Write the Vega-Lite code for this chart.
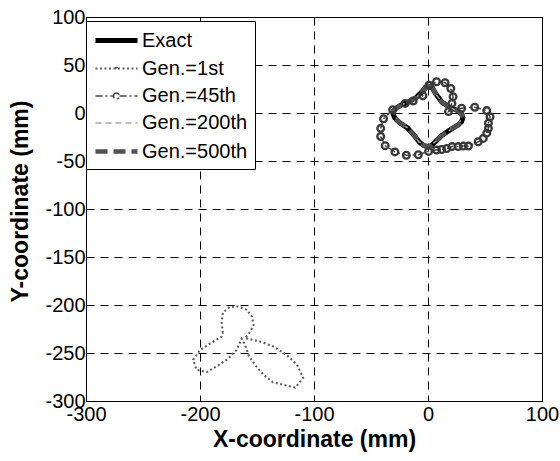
{
  "$schema": "https://vega.github.io/schema/vega-lite/v6.json",
  "width": 456,
  "height": 384,
  "autosize": {"type": "none"},
  "padding": {"left": 86, "top": 17, "right": 18, "bottom": 60},
  "background": "white",
  "config": {
    "font": "Liberation Sans",
    "view": {"stroke": "black", "strokeWidth": 1},
    "axis": {
      "labelFont": "Liberation Sans",
      "labelFontSize": 20,
      "labelColor": "black",
      "labelFlush": false,
      "labelOverlap": false,
      "labelExpr": "datum.value + ''",
      "titleFont": "Liberation Sans",
      "titleFontSize": 23,
      "titleFontWeight": "bold",
      "titleColor": "black",
      "domainColor": "black",
      "domainWidth": 1,
      "tickColor": "black",
      "tickSize": -5,
      "grid": true,
      "gridColor": "black",
      "gridOpacity": 1,
      "gridWidth": 1,
      "gridDash": [8, 6]
    },
    "legend": {
      "labelFont": "Liberation Sans",
      "labelFontSize": 20,
      "labelColor": "black",
      "symbolSize": 400,
      "labelOffset": 24,
      "padding": 7,
      "rowPadding": 6,
      "strokeColor": "black",
      "fillColor": "white",
      "cornerRadius": 0
    }
  },
  "data": {
    "values": [
      {"s": "Exact", "i": 1, "x": 1, "y": 28.5},
      {"s": "Exact", "i": 2, "x": 4, "y": 26},
      {"s": "Exact", "i": 3, "x": 6.5, "y": 20.5},
      {"s": "Exact", "i": 4, "x": 12, "y": 11.5},
      {"s": "Exact", "i": 5, "x": 19, "y": 6},
      {"s": "Exact", "i": 6, "x": 26, "y": 2.5},
      {"s": "Exact", "i": 7, "x": 29.5, "y": -1},
      {"s": "Exact", "i": 8, "x": 30.5, "y": -5},
      {"s": "Exact", "i": 9, "x": 29.5, "y": -9},
      {"s": "Exact", "i": 10, "x": 26.5, "y": -12.5},
      {"s": "Exact", "i": 11, "x": 20, "y": -17},
      {"s": "Exact", "i": 12, "x": 12, "y": -23.5},
      {"s": "Exact", "i": 13, "x": 6, "y": -30.5},
      {"s": "Exact", "i": 14, "x": 3, "y": -34},
      {"s": "Exact", "i": 15, "x": 0, "y": -35},
      {"s": "Exact", "i": 16, "x": -3.5, "y": -34},
      {"s": "Exact", "i": 17, "x": -7.5, "y": -30.5},
      {"s": "Exact", "i": 18, "x": -12, "y": -23.5},
      {"s": "Exact", "i": 19, "x": -18, "y": -15.5},
      {"s": "Exact", "i": 20, "x": -24.5, "y": -10.5},
      {"s": "Exact", "i": 21, "x": -29, "y": -5.5},
      {"s": "Exact", "i": 22, "x": -30.5, "y": -1.5},
      {"s": "Exact", "i": 23, "x": -30, "y": 2.5},
      {"s": "Exact", "i": 24, "x": -27.5, "y": 5.5},
      {"s": "Exact", "i": 25, "x": -24, "y": 8},
      {"s": "Exact", "i": 26, "x": -17, "y": 11.5},
      {"s": "Exact", "i": 27, "x": -10.5, "y": 16},
      {"s": "Exact", "i": 28, "x": -5, "y": 22.5},
      {"s": "Exact", "i": 29, "x": -2.5, "y": 26.5},
      {"s": "Exact", "i": 30, "x": 1, "y": 28.5},

      {"s": "Gen.=1st", "i": 1, "x": -180, "y": -229},
      {"s": "Gen.=1st", "i": 2, "x": -181, "y": -218},
      {"s": "Gen.=1st", "i": 3, "x": -180, "y": -208},
      {"s": "Gen.=1st", "i": 4, "x": -174, "y": -202},
      {"s": "Gen.=1st", "i": 5, "x": -167, "y": -201.5},
      {"s": "Gen.=1st", "i": 6, "x": -159, "y": -205},
      {"s": "Gen.=1st", "i": 7, "x": -154.5, "y": -212},
      {"s": "Gen.=1st", "i": 8, "x": -153, "y": -221},
      {"s": "Gen.=1st", "i": 9, "x": -156, "y": -228},
      {"s": "Gen.=1st", "i": 10, "x": -160.5, "y": -234.5},
      {"s": "Gen.=1st", "i": 11, "x": -147.5, "y": -238},
      {"s": "Gen.=1st", "i": 12, "x": -136, "y": -243},
      {"s": "Gen.=1st", "i": 13, "x": -124, "y": -252},
      {"s": "Gen.=1st", "i": 14, "x": -115, "y": -262},
      {"s": "Gen.=1st", "i": 15, "x": -109.5, "y": -276},
      {"s": "Gen.=1st", "i": 16, "x": -116.5, "y": -286},
      {"s": "Gen.=1st", "i": 17, "x": -127, "y": -283},
      {"s": "Gen.=1st", "i": 18, "x": -136, "y": -280.5},
      {"s": "Gen.=1st", "i": 19, "x": -144.5, "y": -272.5},
      {"s": "Gen.=1st", "i": 20, "x": -152, "y": -262},
      {"s": "Gen.=1st", "i": 21, "x": -157.5, "y": -252},
      {"s": "Gen.=1st", "i": 22, "x": -160.5, "y": -241.5},
      {"s": "Gen.=1st", "i": 23, "x": -163.5, "y": -235},
      {"s": "Gen.=1st", "i": 24, "x": -168, "y": -247},
      {"s": "Gen.=1st", "i": 25, "x": -176.5, "y": -257},
      {"s": "Gen.=1st", "i": 26, "x": -185.5, "y": -264},
      {"s": "Gen.=1st", "i": 27, "x": -194, "y": -270},
      {"s": "Gen.=1st", "i": 28, "x": -203, "y": -267.5},
      {"s": "Gen.=1st", "i": 29, "x": -206, "y": -257},
      {"s": "Gen.=1st", "i": 30, "x": -200, "y": -247},
      {"s": "Gen.=1st", "i": 31, "x": -191, "y": -240},
      {"s": "Gen.=1st", "i": 32, "x": -181, "y": -233},
      {"s": "Gen.=1st", "i": 33, "x": -180, "y": -229},

      {"s": "Gen.=45th", "i": 1, "x": 1, "y": 29},
      {"s": "Gen.=45th", "i": 2, "x": 7.5, "y": 32.5},
      {"s": "Gen.=45th", "i": 3, "x": 15, "y": 31.5},
      {"s": "Gen.=45th", "i": 4, "x": 20, "y": 25.5},
      {"s": "Gen.=45th", "i": 5, "x": 22, "y": 17},
      {"s": "Gen.=45th", "i": 6, "x": 21, "y": 10},
      {"s": "Gen.=45th", "i": 7, "x": 18, "y": 1.5},
      {"s": "Gen.=45th", "i": 8, "x": 29.5, "y": 5},
      {"s": "Gen.=45th", "i": 9, "x": 41, "y": 6},
      {"s": "Gen.=45th", "i": 10, "x": 51.5, "y": 2.5},
      {"s": "Gen.=45th", "i": 11, "x": 54.5, "y": -4},
      {"s": "Gen.=45th", "i": 12, "x": 53, "y": -10.5},
      {"s": "Gen.=45th", "i": 13, "x": 53, "y": -16},
      {"s": "Gen.=45th", "i": 14, "x": 51.5, "y": -21},
      {"s": "Gen.=45th", "i": 15, "x": 48.5, "y": -26.5},
      {"s": "Gen.=45th", "i": 16, "x": 44, "y": -30},
      {"s": "Gen.=45th", "i": 17, "x": 35.5, "y": -34.5},
      {"s": "Gen.=45th", "i": 18, "x": 31, "y": -34.5},
      {"s": "Gen.=45th", "i": 19, "x": 26.5, "y": -35},
      {"s": "Gen.=45th", "i": 20, "x": 21, "y": -35},
      {"s": "Gen.=45th", "i": 21, "x": 16.5, "y": -37},
      {"s": "Gen.=45th", "i": 22, "x": 12, "y": -38},
      {"s": "Gen.=45th", "i": 23, "x": 7.5, "y": -38.5},
      {"s": "Gen.=45th", "i": 24, "x": 0.5, "y": -40},
      {"s": "Gen.=45th", "i": 25, "x": -8.5, "y": -43.5},
      {"s": "Gen.=45th", "i": 26, "x": -19, "y": -44},
      {"s": "Gen.=45th", "i": 27, "x": -29, "y": -40.5},
      {"s": "Gen.=45th", "i": 28, "x": -37.5, "y": -34},
      {"s": "Gen.=45th", "i": 29, "x": -41.5, "y": -24.5},
      {"s": "Gen.=45th", "i": 30, "x": -41.5, "y": -16},
      {"s": "Gen.=45th", "i": 31, "x": -39, "y": -6},
      {"s": "Gen.=45th", "i": 32, "x": -31, "y": 3.5},
      {"s": "Gen.=45th", "i": 33, "x": -20, "y": 10},
      {"s": "Gen.=45th", "i": 34, "x": -13, "y": 12.5},
      {"s": "Gen.=45th", "i": 35, "x": -4.5, "y": 18},
      {"s": "Gen.=45th", "i": 36, "x": 1, "y": 29},

      {"s": "Gen.=200th", "i": 1, "x": 1.5, "y": 28},
      {"s": "Gen.=200th", "i": 2, "x": 6.5, "y": 20},
      {"s": "Gen.=200th", "i": 3, "x": 12.5, "y": 11},
      {"s": "Gen.=200th", "i": 4, "x": 19.5, "y": 5.5},
      {"s": "Gen.=200th", "i": 5, "x": 27, "y": 2},
      {"s": "Gen.=200th", "i": 6, "x": 30, "y": -5},
      {"s": "Gen.=200th", "i": 7, "x": 26, "y": -13},
      {"s": "Gen.=200th", "i": 8, "x": 19.5, "y": -17.5},
      {"s": "Gen.=200th", "i": 9, "x": 11.5, "y": -24},
      {"s": "Gen.=200th", "i": 10, "x": 5.5, "y": -31},
      {"s": "Gen.=200th", "i": 11, "x": 0, "y": -34.5},
      {"s": "Gen.=200th", "i": 12, "x": -8, "y": -30},
      {"s": "Gen.=200th", "i": 13, "x": -12.5, "y": -23},
      {"s": "Gen.=200th", "i": 14, "x": -18.5, "y": -15},
      {"s": "Gen.=200th", "i": 15, "x": -25, "y": -10},
      {"s": "Gen.=200th", "i": 16, "x": -30, "y": -2},
      {"s": "Gen.=200th", "i": 17, "x": -27, "y": 6},
      {"s": "Gen.=200th", "i": 18, "x": -17, "y": 12},
      {"s": "Gen.=200th", "i": 19, "x": -10, "y": 16.5},
      {"s": "Gen.=200th", "i": 20, "x": -4, "y": 23},
      {"s": "Gen.=200th", "i": 21, "x": 1.5, "y": 28},

      {"s": "Gen.=500th", "i": 1, "x": 1, "y": 28.5},
      {"s": "Gen.=500th", "i": 2, "x": 4, "y": 26},
      {"s": "Gen.=500th", "i": 3, "x": 6.5, "y": 20.5},
      {"s": "Gen.=500th", "i": 4, "x": 12, "y": 11.5},
      {"s": "Gen.=500th", "i": 5, "x": 19, "y": 6},
      {"s": "Gen.=500th", "i": 6, "x": 26, "y": 2.5},
      {"s": "Gen.=500th", "i": 7, "x": 29.5, "y": -1},
      {"s": "Gen.=500th", "i": 8, "x": 30.5, "y": -5},
      {"s": "Gen.=500th", "i": 9, "x": 29.5, "y": -9},
      {"s": "Gen.=500th", "i": 10, "x": 26.5, "y": -12.5},
      {"s": "Gen.=500th", "i": 11, "x": 20, "y": -17},
      {"s": "Gen.=500th", "i": 12, "x": 12, "y": -23.5},
      {"s": "Gen.=500th", "i": 13, "x": 6, "y": -30.5},
      {"s": "Gen.=500th", "i": 14, "x": 3, "y": -34},
      {"s": "Gen.=500th", "i": 15, "x": 0, "y": -35},
      {"s": "Gen.=500th", "i": 16, "x": -3.5, "y": -34},
      {"s": "Gen.=500th", "i": 17, "x": -7.5, "y": -30.5},
      {"s": "Gen.=500th", "i": 18, "x": -12, "y": -23.5},
      {"s": "Gen.=500th", "i": 19, "x": -18, "y": -15.5},
      {"s": "Gen.=500th", "i": 20, "x": -24.5, "y": -10.5},
      {"s": "Gen.=500th", "i": 21, "x": -29, "y": -5.5},
      {"s": "Gen.=500th", "i": 22, "x": -30.5, "y": -1.5},
      {"s": "Gen.=500th", "i": 23, "x": -30, "y": 2.5},
      {"s": "Gen.=500th", "i": 24, "x": -27.5, "y": 5.5},
      {"s": "Gen.=500th", "i": 25, "x": -24, "y": 8},
      {"s": "Gen.=500th", "i": 26, "x": -17, "y": 11.5},
      {"s": "Gen.=500th", "i": 27, "x": -10.5, "y": 16},
      {"s": "Gen.=500th", "i": 28, "x": -5, "y": 22.5},
      {"s": "Gen.=500th", "i": 29, "x": -2.5, "y": 26.5},
      {"s": "Gen.=500th", "i": 30, "x": 1, "y": 28.5}
    ]
  },
  "encoding": {
    "x": {
      "field": "x", "type": "quantitative",
      "scale": {"domain": [-300, 100], "nice": false, "zero": false},
      "axis": {"values": [-300, -200, -100, 0, 100], "title": "X-coordinate (mm)", "labelPadding": 8, "titlePadding": 4}
    },
    "y": {
      "field": "y", "type": "quantitative",
      "scale": {"domain": [-300, 100], "nice": false, "zero": false},
      "axis": {"values": [-300, -250, -200, -150, -100, -50, 0, 50, 100], "title": "Y-coordinate (mm)", "labelPadding": 6, "titlePadding": 12, "titleY": 184}
    }
  },
  "layer": [
    {
      "encoding": {
        "order": {"field": "i", "type": "quantitative"},
        "color": {
          "field": "s", "type": "nominal", "title": null,
          "scale": {"domain": ["Exact", "Gen.=1st", "Gen.=45th", "Gen.=200th", "Gen.=500th"], "range": ["#000000", "#5e5e5e", "#444444", "#a8a8a8", "#505050"]},
          "legend": {"orient": "none", "legendX": 0, "legendY": 4, "symbolType": "M-1,0H3.2",
            "encode": {"symbols": {"update": {"shape": {"signal": "datum.label === 'Gen.=45th' ? 'M-1,0H0.8M1.4,0H3.2M1.1,-0.3A0.3,0.3 0 1,0 1.1,0.3A0.3,0.3 0 1,0 1.1,-0.3' : (datum.label === 'Gen.=1st' ? 'M-1,0H3.2M1.1,-0.1A0.1,0.1 0 1,0 1.1,0.1A0.1,0.1 0 1,0 1.1,-0.1' : 'M-1,0H3.2')"}}}}}
        },
        "strokeDash": {
          "field": "s", "type": "nominal", "title": null,
          "scale": {"domain": ["Exact", "Gen.=1st", "Gen.=45th", "Gen.=200th", "Gen.=500th"], "range": [[1, 0], [2, 2.5], [7, 3, 2, 3], [6, 4], [12, 6]]},
          "legend": {"orient": "none", "legendX": 0, "legendY": 4, "symbolType": "M-1,0H3.2"}
        },
        "strokeWidth": {
          "field": "s", "type": "nominal", "title": null,
          "scale": {"type": "ordinal", "domain": ["Exact", "Gen.=1st", "Gen.=45th", "Gen.=200th", "Gen.=500th"], "range": [5, 2.1, 1.5, 1.5, 4.5]},
          "legend": {"orient": "none", "legendX": 0, "legendY": 4, "symbolType": "M-1,0H3.2"}
        }
      },
      "layer": [
        {"transform": [{"filter": "datum.s === 'Exact'"}], "mark": {"type": "line"}},
        {"transform": [{"filter": "datum.s === 'Gen.=1st'"}], "mark": {"type": "line"}},
        {"transform": [{"filter": "datum.s === 'Gen.=45th'"}], "mark": {"type": "line"}},
        {"transform": [{"filter": "datum.s === 'Gen.=200th'"}], "mark": {"type": "line"}},
        {"transform": [{"filter": "datum.s === 'Gen.=500th'"}], "mark": {"type": "line"}}
      ]
    },
    {
      "transform": [{"filter": "datum.s === 'Gen.=45th'"}],
      "mark": {"type": "point", "shape": "circle", "filled": false, "size": 45, "strokeWidth": 2.3, "color": "#383838", "opacity": 1}
    }
  ]
}
